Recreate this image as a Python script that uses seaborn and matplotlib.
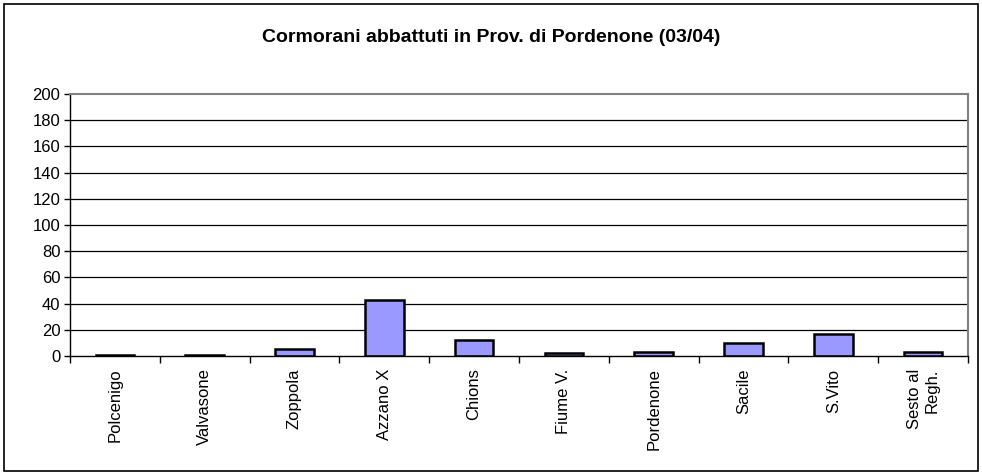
import matplotlib
matplotlib.use("Agg")
import matplotlib.pyplot as plt
import seaborn as sns
import pandas as pd
import numpy as np
from matplotlib.patches import Rectangle

categories = ["Polcenigo", "Valvasone", "Zoppola", "Azzano X", "Chions", "Fiume V.",
              "Pordenone", "Sacile", "S.Vito", "Sesto al\nRegh."]
values = [1, 1, 5, 43, 12, 2, 3, 10, 17, 3]
yticks = list(range(0, 201, 20))
title = "Cormorani abbattuti in Prov. di Pordenone (03/04)"

sns.set_theme(style="white")
plt.rcParams['font.family'] = ['Liberation Sans', 'DejaVu Sans']
plt.rcParams['text.color'] = 'black'
plt.rcParams['xtick.color'] = 'black'
plt.rcParams['ytick.color'] = 'black'
plt.rcParams['xtick.labelcolor'] = 'black'
plt.rcParams['ytick.labelcolor'] = 'black'

df = pd.DataFrame({"cat": categories, "val": values})

fig = plt.figure(figsize=(9.82, 4.75), dpi=100)
ax = fig.add_axes([70/982, 1-356/475, (968-70)/982, (356-94)/475])

sns.barplot(data=df, x="cat", y="val", ax=ax, color="#9999FF", width=0.43,
            edgecolor="black", linewidth=1.8, saturation=1)

ax.set_ylim(0, 200)
ax.set_xlim(-0.5, len(categories) - 0.5)
ax.set_yticks(yticks)
ax.set_yticklabels([str(t) for t in yticks], fontsize=12, color="black")
ax.set_xticks(range(len(categories)))
ax.set_xticklabels(categories, rotation=90, fontsize=12, va="top", ha="center",
                   multialignment="right", color="black")
ax.set_xlabel("")
ax.set_ylabel("")

for t in yticks[1:-1]:
    ax.axhline(t, color="black", linewidth=0.9, zorder=0)
ax.set_axisbelow(True)

for side in ["top", "right"]:
    ax.spines[side].set_visible(True)
    ax.spines[side].set_color("#808080")
    ax.spines[side].set_linewidth(1.5)
for side in ["left", "bottom"]:
    ax.spines[side].set_visible(True)
    ax.spines[side].set_color("black")
    ax.spines[side].set_linewidth(1)

ax.set_xticks(np.arange(-0.5, len(categories), 1), minor=True)
ax.tick_params(axis="x", which="major", length=0, pad=9)
ax.tick_params(axis="x", which="minor", length=5, color="black", width=1, direction="out")
ax.tick_params(axis="y", length=4, color="black", width=1, direction="out", pad=3)
ax.tick_params(axis="x", bottom=True, which="both")
ax.tick_params(axis="y", left=True)

fig.text(0.5, 1-38/475, title, ha="center", va="center", fontsize=14,
         fontweight="bold", color="black")

fig.patches.append(Rectangle((4/982, 4/475), 974/982, 467/475, transform=fig.transFigure,
                             fill=False, edgecolor="black", linewidth=1.2))

fig.savefig("out.png", dpi=100)
